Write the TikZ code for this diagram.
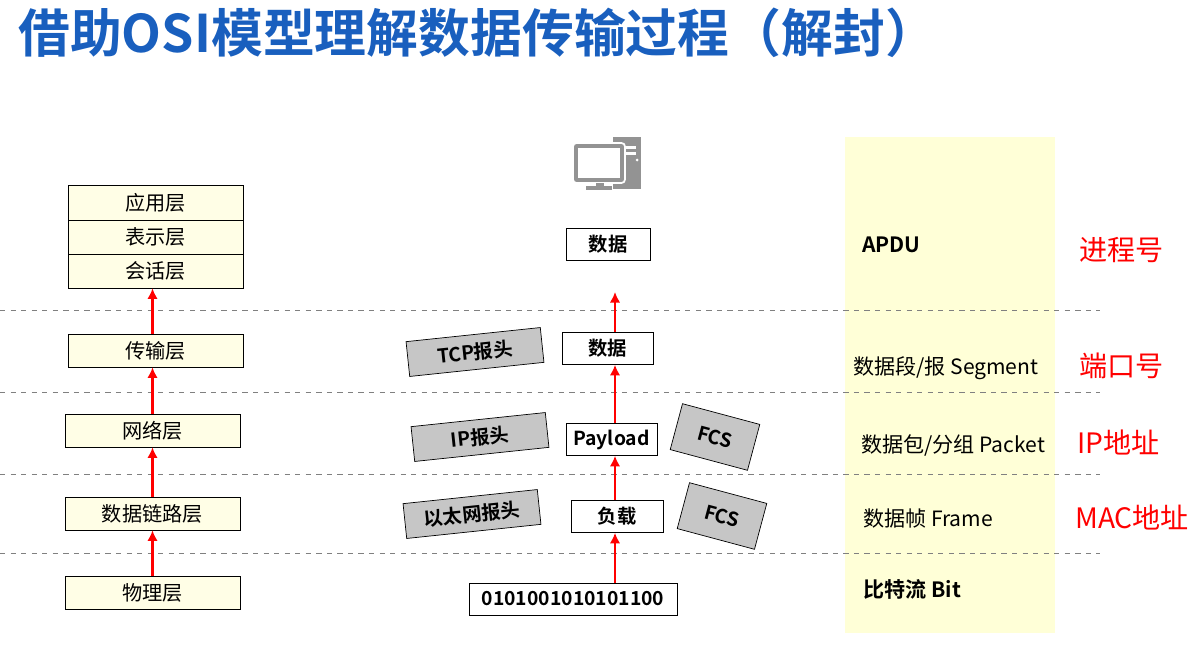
\documentclass[tikz,border=0pt]{standalone}
\usepackage{fontspec}
\usetikzlibrary{arrows.meta}
\setmainfont{Noto Sans CJK SC}
\newfontfamily\cjkb{Noto Sans CJK SC Bold}
\definecolor{ttl}{RGB}{25,95,190}
\definecolor{pale}{RGB}{255,255,215}
\begin{document}
\begin{tikzpicture}[x=0.02cm,y=-0.02cm,
  layer/.style={draw,fill=yellow!10,minimum width=3.5cm,minimum height=0.66cm,font=\fontsize{11.5}{12}\selectfont,inner sep=0},
  pdu/.style={draw,fill=white,minimum height=0.64cm,font=\cjkb\fontsize{11}{12}\selectfont,inner sep=0},
  hdr/.style={draw,fill=gray!45,minimum height=0.7cm,font=\cjkb\fontsize{11}{12}\selectfont,inner sep=0},
  up/.style={red,line width=1.5pt,-{Latex[length=6pt,width=6pt]}},
  sep/.style={gray,dashed},
  redl/.style={red,anchor=west,font=\fontsize{16}{18}\selectfont},
  pdul/.style={anchor=west,font=\fontsize{12}{14}\selectfont}]
\useasboundingbox (0,0) rectangle (1204,656);
\node[anchor=west,text=ttl,font=\cjkb\fontsize{29.5}{32}\selectfont] (title) at (12,33) {借助OSI模型理解数据传输过程（解封）};
\fill[pale] (845,137) rectangle (1055,633);
\foreach \y in {310,392,474,553} \draw[sep] (0,\y) -- (1100,\y);
% left stack
\node[layer,minimum height=0.7cm] (app) at (155.5,203) {应用层};
\node[layer,minimum height=0.68cm] (pre) at (155.5,237) {表示层};
\node[layer,minimum height=0.68cm] (ses) at (155.5,271) {会话层};
\node[layer] (tra) at (155.5,350.5) {传输层};
\node[layer] (net) at (152.5,430.5) {网络层};
\node[layer] (dl) at (152.5,513.5) {数据链路层};
\node[layer] (phy) at (152.5,592.5) {物理层};
\draw[up] (phy.north) -- (dl.south);
\draw[up] (dl.north) -- (net.south);
\draw[up] (net.north) -- (net.north|-tra.south);
\draw[up] (tra.north-|net.north) -- (net.north|-ses.south);
% computer icon
\fill[gray!85] (613,137) rectangle (641,189);
\fill[white] (618,146) rectangle (636,149);
\fill[white] (618,152) rectangle (636,155);
\fill[white] (637,160) circle (1.5);
\fill[gray!85,draw=white,line width=1pt,rounded corners=2] (573,143) rectangle (625,183);
\fill[white] (578,148) rectangle (620,178);
\fill[gray!85] (596,183) rectangle (604,187);
\fill[gray!85] (586,186) rectangle (612,190);
% middle
\node[pdu,minimum width=1.68cm] (d1) at (608,244) {数据};
\node[pdu,minimum width=1.82cm] (d2) at (607.5,348.5) {数据};
\node[pdu,minimum width=1.82cm] (pl) at (611.5,439.5) {Payload};
\node[pdu,minimum width=1.84cm] (fz) at (617,516.5) {负载};
\node[pdu,minimum width=4.16cm] (bits) at (573,599) {0101001010101100};
\node[hdr,minimum width=2.7cm,rotate=6] (tcp) at (475,352) {TCP报头};
\node[hdr,minimum width=2.7cm,rotate=6] (ip) at (480,437) {IP报头};
\node[hdr,minimum width=2.7cm,rotate=6] (eth) at (472,514) {以太网报头};
\node[hdr,minimum width=1.6cm,minimum height=0.95cm,rotate=-15] (fcs1) at (715,437) {FCS};
\node[hdr,minimum width=1.6cm,minimum height=0.95cm,rotate=-15] (fcs2) at (722,516) {FCS};
\coordinate (top) at (615,292);
\draw[up] (bits.north-|615,0) -- (fz.south-|615,0);
\draw[up] (fz.north-|615,0) -- (pl.south-|615,0);
\draw[up] (pl.north-|615,0) -- (d2.south-|615,0);
\draw[up] (d2.north-|615,0) -- (top);
% right column
\node[pdul,font=\cjkb\fontsize{12}{14}\selectfont] (l1) at (856,245) {APDU};
\node[pdul] (l2) at (847,368) {数据段/报 Segment};
\node[pdul] (l3) at (855,445) {数据包/分组 Packet};
\node[pdul] (l4) at (857,519) {数据帧 Frame};
\node[pdul,font=\cjkb\fontsize{12}{14}\selectfont] (l5) at (857,589) {比特流 Bit};
\node[redl] (r1) at (1073,250) {进程号};
\node[redl] (r2) at (1073,366) {端口号};
\node[redl] (r3) at (1071,442) {IP地址};
\node[redl] (r4) at (1069,517) {MAC地址};
\end{tikzpicture}
\end{document}
